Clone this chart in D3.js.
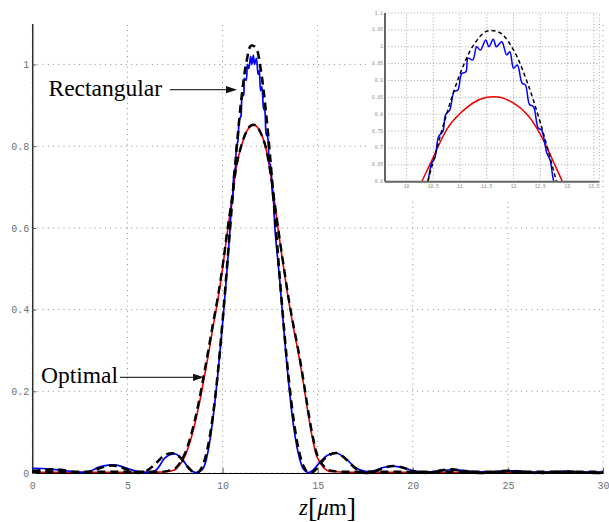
<!DOCTYPE html>
<html><head><meta charset="utf-8">
<script src="https://cdn.jsdelivr.net/npm/d3@7"></script>
<style>body{margin:0;background:#fff}svg{display:block}</style>
</head><body>
<svg id="c" width="609" height="522"></svg>
<script>
// ---------- data ----------
const zMain = [0,0.5,1,1.5,2,2.5,3,3.5,4,4.5,5,5.5,6,6.5,7,7.5,
  7.75,8,8.25,8.5,8.75,9,9.25,9.5,9.75,10,10.25,10.5,10.75,11,11.25,11.5,11.75,12,12.25,12.5,12.75,13,13.25,13.5,13.75,14,14.25,14.5,14.75,
  15,15.5,16,16.5,17,17.5,18,18.5,19,19.5,20,20.5,21,21.5,22,22.5,23,23.5,24,24.5,25,25.5,26,26.5,27,27.5,28,28.5,29,29.5,30];

// black dashed: ideal (rectangular) profile
const rectIdeal = [0.005,0.007,0.0088,0.008,0.0036,0.0003,0.0025,0.011,0.018,0.017,0.008,0.0005,0.005,0.024,0.0448,0.0475,
  0.039,0.0255,0.011,0.0011,0.0029,0.0234,0.0688,0.142,0.244,0.370,0.513,0.660,0.800,0.919,1.004,1.046,1.041,0.990,0.897,0.774,0.631,0.483,0.343,0.221,0.125,0.0574,0.0175,0.0012,0.0024,
  0.0137,0.0412,0.0489,0.0333,0.0113,0.0003,0.0039,0.0132,0.0173,0.0128,0.0047,0.0001,0.0018,0.0064,0.0088,0.0067,0.0025,0.0001,0.001,0.0038,0.0053,0.0041,0.0016,0,0.0007,0.0025,0.0035,0.0028,0.0011,0,0.0005];

// blue: rectangular result
const rectBlue = [0.0115,0.011,0.0095,0.007,0.004,0.0015,0.004,0.0145,0.0195,0.0185,0.011,0.004,0.0015,0.007,0.038,0.047,
  0.040,0.026,0.010,0.002,0.002,0.013,0.056,0.135,0.240,0.365,0.505,0.660,0.800,0.900,0.962,1.015,1.010,0.936,0.885,0.755,0.600,0.475,0.335,0.210,0.110,0.045,0.010,0.001,0.007,
  0.020,0.043,0.049,0.034,0.013,0.004,0.006,0.014,0.017,0.013,0.006,0.003,0.003,0.006,0.008,0.007,0.004,0.003,0.003,0.004,0.005,0.005,0.003,0.002,0.002,0.003,0.004,0.003,0.002,0.002,0.002];

// red: optimal result
const optRed = [0.002,0.002,0.002,0.002,0.002,0.002,0.002,0.002,0.002,0.002,0.002,0.002,0.002,0.002,0.003,0.008,
  0.020,0.039,0.070,0.112,0.163,0.224,0.288,0.357,0.422,0.500,0.588,0.672,0.754,0.802,0.834,0.850,0.850,0.833,0.800,0.740,0.657,0.570,0.490,0.415,0.350,0.290,0.220,0.145,0.080,
  0.036,0.006,0.003,0.002,0.002,0.002,0.002,0.002,0.002,0.002,0.002,0.002,0.002,0.002,0.002,0.002,0.002,0.002,0.002,0.002,0.002,0.002,0.002,0.002,0.002,0.002,0.002,0.002,0.002,0.002,0.002];

// black dashed: ideal (optimal) profile
const optIdeal = [0.003,0.003,0.003,0.003,0.003,0.003,0.003,0.003,0.003,0.003,0.003,0.003,0.003,0.003,0.004,0.011,
  0.024,0.045,0.078,0.121,0.173,0.235,0.300,0.366,0.430,0.505,0.593,0.674,0.756,0.803,0.835,0.851,0.851,0.833,0.801,0.740,0.658,0.574,0.495,0.420,0.356,0.297,0.228,0.153,0.088,
  0.042,0.009,0.004,0.003,0.003,0.003,0.003,0.003,0.003,0.003,0.003,0.003,0.003,0.003,0.003,0.003,0.003,0.003,0.003,0.003,0.003,0.003,0.003,0.003,0.003,0.003,0.003,0.003,0.003,0.003,0.003];

// blue ripples near the peak
const zFine = [10.40,10.47,10.53,10.60,10.68,10.73,10.81,10.89,10.96,11.03,11.11,11.15,11.24,11.31,11.38,11.48,11.54,11.62,11.68,11.78,11.87,11.93,12.00,12.07,12.16,12.22,12.30,12.37,12.46,12.52,12.62,12.68,12.75];
const rectFine = [0.600,0.655,0.670,0.734,0.749,0.798,0.813,0.867,0.872,0.920,0.926,0.966,0.961,1.000,0.990,1.020,1.000,1.022,1.000,1.015,0.976,0.985,0.936,0.946,0.892,0.887,0.828,0.823,0.759,0.754,0.685,0.665,0.600];

const xTicks = [0,5,10,15,20,25,30];
const xTickLabels = ["0","5","10","15","20","25","30"];
const yTicks = [0,0.2,0.4,0.6,0.8,1];
const yTickLabels = ["0","0.2","0.4","0.6","0.8","1"];
const insetXTicks = [10,10.5,11,11.5,12,12.5,13,13.5];
const insetXTickLabels = ["10","10.5","11","11.5","12","12.5","13","13.5"];
const insetYTicks = [0.6,0.65,0.7,0.75,0.8,0.85,0.9,0.95,1,1.05,1.1];
const insetYTickLabels = ["0.6","0.65","0.7","0.75","0.8","0.85","0.9","0.95","1","1.05","1.1"];

// ---------- drawing ----------
const svg = d3.select("#c");
const x = d3.scaleLinear().domain([0,30]).range([32.3,603]);
const y = d3.scaleLinear().domain([0,1.1]).range([473,23.6]);

const pairs = arr => zMain.map((z,i)=>[z,arr[i]]);
const bluePts = pairs(rectBlue).filter(p=>p[0]<10.4||p[0]>12.75)
  .concat(zFine.map((z,i)=>[z,rectFine[i]])).sort((a,b)=>a[0]-b[0]);

const mono = "'Liberation Mono','DejaVu Sans Mono',monospace";
const serif = "'Liberation Serif','Times New Roman',serif";

// grid
const g = svg.append("g");
g.selectAll(".vg").data(xTicks).join("line")
  .attr("x1",d=>x(d)).attr("x2",d=>x(d)).attr("y1",y(0)).attr("y2",y(1.1))
  .attr("stroke","#8a8a8a").attr("stroke-width",1).attr("stroke-dasharray","1,4.2");
g.selectAll(".hg").data(yTicks).join("line")
  .attr("x1",x(0)).attr("x2",x(30)).attr("y1",d=>y(d)).attr("y2",d=>y(d))
  .attr("stroke","#8a8a8a").attr("stroke-width",1).attr("stroke-dasharray","1,4.2");

// axes
const xAxis = d3.axisBottom(x).tickValues(xTicks).tickFormat((d,i)=>xTickLabels[i]).tickSizeInner(-5).tickSizeOuter(0).tickPadding(9);
const yAxis = d3.axisLeft(y).tickValues(yTicks).tickFormat((d,i)=>yTickLabels[i]).tickSizeInner(-4).tickSizeOuter(0).tickPadding(3);
const gx = svg.append("g").attr("transform",`translate(0,${y(0)})`).call(xAxis);
const gy = svg.append("g").attr("transform",`translate(${x(0)},0)`).call(yAxis);
[gx,gy].forEach(a=>{
  a.select(".domain").attr("stroke","#000").attr("stroke-width",1.2);
  a.selectAll(".tick line").attr("stroke","#555");
  a.selectAll("text").attr("font-family",mono).attr("font-size","10px").attr("fill","#707070");
});

// curves
const line = d3.line().x(d=>x(d[0])).y(d=>y(d[1])).curve(d3.curveCatmullRom.alpha(0.5));
svg.append("path").datum(pairs(optRed)).attr("d",line).attr("fill","none").attr("stroke","#ee0000").attr("stroke-width",1.6);
svg.append("path").datum(bluePts).attr("d",line).attr("fill","none").attr("stroke","#0000ff").attr("stroke-width",1.7);
svg.append("path").datum(pairs(optIdeal)).attr("d",line).attr("fill","none").attr("stroke","#000").attr("stroke-width",2.4).attr("stroke-dasharray","8,5");
svg.append("path").datum(pairs(rectIdeal)).attr("d",line).attr("fill","none").attr("stroke","#000").attr("stroke-width",2.6).attr("stroke-dasharray","8,5");

// annotations
function arrow(x1,x2,yy){
  svg.append("line").attr("x1",x1).attr("x2",x2-10).attr("y1",yy).attr("y2",yy).attr("stroke","#333").attr("stroke-width",1.3);
  svg.append("path").attr("d",`M${x2},${yy}L${x2-11},${yy-3.6}L${x2-11},${yy+3.6}Z`).attr("fill","#111");
}
svg.append("text").attr("x",48.5).attr("y",96).attr("font-family",serif).attr("font-size","23.5px").attr("fill","#000").text("Rectangular");
arrow(170,237,89.7);
svg.append("text").attr("x",41).attr("y",383).attr("font-family",serif).attr("font-size","23.5px").attr("fill","#000").text("Optimal");
arrow(120,204,377.3);

// x label z[μm]
const xl = svg.append("text").attr("x",327.5).attr("y",515).attr("text-anchor","middle").attr("font-family",serif).attr("font-size","23px").attr("fill","#000");
xl.append("tspan").attr("font-style","italic").text("z");
xl.append("tspan").attr("font-size","28px").attr("dy",2).text("[");
xl.append("tspan").attr("font-style","italic").attr("dy",-2).text("μ");
xl.append("tspan").text("m");
xl.append("tspan").attr("font-size","28px").attr("dy",2).text("]");

// ---------- inset ----------
const xi = d3.scaleLinear().domain([9.6,13.6]).range([385,599.3]);
const yi = d3.scaleLinear().domain([0.6,1.1]).range([181.7,13]);
svg.append("rect").attr("x",368).attr("y",0).attr("width",233).attr("height",198).attr("fill","#fff");
const ig = svg.append("g");
ig.selectAll(".ivg").data(insetXTicks.concat([13.6])).join("line")
  .attr("x1",d=>xi(d)).attr("x2",d=>xi(d)).attr("y1",yi(0.6)).attr("y2",yi(1.1))
  .attr("stroke","#9a9a9a").attr("stroke-width",0.9).attr("stroke-dasharray","1,2.2");
ig.selectAll(".ihg").data(insetYTicks).join("line")
  .attr("x1",xi(9.6)).attr("x2",xi(13.6)).attr("y1",d=>yi(d)).attr("y2",d=>yi(d))
  .attr("stroke","#9a9a9a").attr("stroke-width",0.9).attr("stroke-dasharray","1,2.2");
ig.selectAll(".ixl").data(insetXTicks).join("text")
  .attr("x",d=>xi(d)).attr("y",188).attr("text-anchor","middle")
  .attr("font-family",mono).attr("font-size","4.6px").attr("fill","#888").text((d,i)=>insetXTickLabels[i]);
ig.selectAll(".iyl").data(insetYTicks).join("text")
  .attr("x",383).attr("y",d=>yi(d)+1.5).attr("text-anchor","end")
  .attr("font-family",mono).attr("font-size","4.6px").attr("fill","#888").text((d,i)=>insetYTickLabels[i]);

svg.append("clipPath").attr("id","ic").append("rect")
  .attr("x",xi(9.6)).attr("y",yi(1.1)).attr("width",xi(13.6)-xi(9.6)).attr("height",yi(0.6)-yi(1.1));
const il = d3.line().x(d=>xi(d[0])).y(d=>yi(d[1])).curve(d3.curveCatmullRom.alpha(0.5));
const ilSmooth = d3.line().x(d=>xi(d[0])).y(d=>yi(d[1])).curve(d3.curveNatural);
const ic = svg.append("g").attr("clip-path","url(#ic)");
ic.append("path").datum(pairs(optRed).filter(p=>p[0]>=9&&p[0]<=14.5)).attr("d",ilSmooth).attr("fill","none").attr("stroke","#ee0000").attr("stroke-width",1.5);
ic.append("path").datum(bluePts).attr("d",il).attr("fill","none").attr("stroke","#0000ff").attr("stroke-width",1.5);
ic.append("path").datum(pairs(rectIdeal)).attr("d",il).attr("fill","none").attr("stroke","#000").attr("stroke-width",1.5).attr("stroke-dasharray","4,3");

svg.append("line").attr("x1",xi(9.6)).attr("x2",xi(9.6)).attr("y1",yi(1.1)).attr("y2",yi(0.6)).attr("stroke","#666").attr("stroke-width",2);
svg.append("line").attr("x1",xi(9.6)).attr("x2",xi(13.6)).attr("y1",yi(0.6)).attr("y2",yi(0.6)).attr("stroke","#666").attr("stroke-width",2);
</script>
</body></html>
